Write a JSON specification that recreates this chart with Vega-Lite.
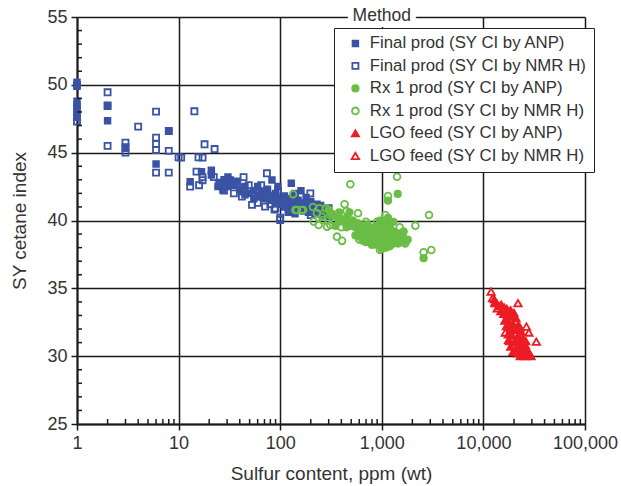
{
  "$schema": "https://vega.github.io/schema/vega-lite/v6.json",
  "width": 508,
  "height": 407,
  "autosize": {"type": "none"},
  "padding": {"left": 77, "top": 17, "right": 36, "bottom": 62},
  "config": {
    "view": {"stroke": null},
    "font": "Liberation Sans",
    "axis": {"labelFont": "Liberation Sans", "titleFont": "Liberation Sans", "labelColor": "#333", "titleColor": "#333", "labelFontSize": 18, "titleFontSize": 19, "titleFontWeight": "normal", "domainColor": "#1a1a1a", "domainWidth": 2, "tickColor": "#1a1a1a", "tickWidth": 1.5, "gridColor": "#1a1a1a", "gridWidth": 1.5},
    "legend": {"orient": "none", "legendX": 257, "legendY": 11, "strokeColor": "#222", "fillColor": "white", "padding": 7, "symbolOffset": 6, "labelFont": "Liberation Sans", "labelFontSize": 16.8, "labelColor": "#333", "labelOffset": 6, "rowPadding": 4.5, "symbolStrokeWidth": 1.8, "labelLimit": 400}
  },
  "resolve": {"axis": {"x": "independent", "y": "independent"}},
  "datasets": {
    "pts": [
      {"x":1,"y":50.2,"s":"FA"},{"x":1,"y":49.9,"s":"FA"},{"x":1,"y":48.8,"s":"FA"},{"x":1,"y":48.5,"s":"FA"},{"x":1,"y":48.3,"s":"FA"},{"x":1,"y":48.0,"s":"FA"},{"x":1,"y":47.8,"s":"FA"},{"x":1,"y":47.6,"s":"FA"},
      {"x":2,"y":48.5,"s":"FA"},{"x":2,"y":47.36,"s":"FA"},{"x":3,"y":45.33,"s":"FA"},{"x":6,"y":44.17,"s":"FA"},{"x":8,"y":46.6,"s":"FA"},{"x":13,"y":42.86,"s":"FA"},{"x":16.8,"y":43.6,"s":"FA"},{"x":21,"y":43.7,"s":"FA"},{"x":21,"y":43.35,"s":"FA"},{"x":24.4,"y":42.5,"s":"FA"},{"x":26.8,"y":42.5,"s":"FA"},{"x":27.3,"y":42.25,"s":"FA"},{"x":30.6,"y":43.2,"s":"FA"},{"x":30.6,"y":42.5,"s":"FA"},{"x":32.3,"y":42.99,"s":"FA"},{"x":83,"y":42.99,"s":"FA"},{"x":128.6,"y":42.74,"s":"FA"},
      {"x":35,"y":42.6,"s":"FA"},{"x":40,"y":42.3,"s":"FA"},{"x":45,"y":42.5,"s":"FA"},{"x":50,"y":42.0,"s":"FA"},{"x":55,"y":42.2,"s":"FA"},{"x":60,"y":41.8,"s":"FA"},{"x":65,"y":42.1,"s":"FA"},{"x":70,"y":41.6,"s":"FA"},{"x":75,"y":41.9,"s":"FA"},{"x":80,"y":41.5,"s":"FA"},{"x":85,"y":41.8,"s":"FA"},{"x":90,"y":41.3,"s":"FA"},{"x":95,"y":41.6,"s":"FA"},{"x":100,"y":41.2,"s":"FA"},{"x":105,"y":41.5,"s":"FA"},{"x":110,"y":41.0,"s":"FA"},{"x":115,"y":41.4,"s":"FA"},{"x":120,"y":41.1,"s":"FA"},{"x":130,"y":40.9,"s":"FA"},{"x":140,"y":41.3,"s":"FA"},{"x":150,"y":40.8,"s":"FA"},{"x":160,"y":41.1,"s":"FA"},{"x":170,"y":40.7,"s":"FA"},{"x":180,"y":41.0,"s":"FA"},{"x":190,"y":40.6,"s":"FA"},{"x":200,"y":40.9,"s":"FA"},{"x":220,"y":40.5,"s":"FA"},{"x":240,"y":40.8,"s":"FA"},{"x":260,"y":40.4,"s":"FA"},{"x":280,"y":40.7,"s":"FA"},{"x":300,"y":40.3,"s":"FA"},{"x":310,"y":40.5,"s":"FA"},{"x":60,"y":42.5,"s":"FA"},{"x":75,"y":42.3,"s":"FA"},{"x":90,"y":42.0,"s":"FA"},{"x":110,"y":41.8,"s":"FA"},{"x":130,"y":41.6,"s":"FA"},{"x":150,"y":41.5,"s":"FA"},{"x":170,"y":41.3,"s":"FA"},{"x":200,"y":41.4,"s":"FA"},{"x":230,"y":41.2,"s":"FA"},{"x":250,"y":41.1,"s":"FA"},{"x":45,"y":41.9,"s":"FA"},{"x":55,"y":41.6,"s":"FA"},{"x":120,"y":40.6,"s":"FA"},{"x":140,"y":40.5,"s":"FA"},{"x":38,"y":42.9,"s":"FA"},{"x":28,"y":43.0,"s":"FA"},{"x":25,"y":42.8,"s":"FA"},{"x":140,"y":42.0,"s":"FA"},{"x":180,"y":41.7,"s":"FA"},{"x":160,"y":42.2,"s":"FA"},{"x":95,"y":42.5,"s":"FA"},
      {"x":1,"y":47.3,"s":"FN"},{"x":1,"y":50.0,"s":"FN"},{"x":2,"y":49.45,"s":"FN"},{"x":2,"y":48.44,"s":"FN"},{"x":2,"y":45.5,"s":"FN"},{"x":3,"y":45.74,"s":"FN"},{"x":3,"y":45.0,"s":"FN"},{"x":3,"y":45.4,"s":"FN"},{"x":4,"y":46.92,"s":"FN"},{"x":6,"y":48.02,"s":"FN"},{"x":6,"y":46.1,"s":"FN"},{"x":6,"y":45.64,"s":"FN"},{"x":6,"y":45.2,"s":"FN"},{"x":6,"y":43.53,"s":"FN"},{"x":8,"y":46.6,"s":"FN"},{"x":8,"y":45.13,"s":"FN"},{"x":8,"y":43.53,"s":"FN"},{"x":10,"y":44.66,"s":"FN"},{"x":14.3,"y":48.05,"s":"FN"},{"x":15.7,"y":44.66,"s":"FN"},{"x":15,"y":43.6,"s":"FN"},{"x":18,"y":45.62,"s":"FN"},{"x":17.2,"y":44.63,"s":"FN"},{"x":22.6,"y":45.27,"s":"FN"},{"x":13,"y":42.5,"s":"FN"},{"x":15.9,"y":42.6,"s":"FN"},{"x":17.2,"y":43.2,"s":"FN"},{"x":17.2,"y":42.97,"s":"FN"},{"x":22.2,"y":43.2,"s":"FN"},{"x":43.6,"y":43.2,"s":"FN"},{"x":40,"y":42.4,"s":"FN"},{"x":42,"y":42.13,"s":"FN"},{"x":42,"y":41.76,"s":"FN"},{"x":52.8,"y":41.15,"s":"FN"},{"x":74,"y":43.48,"s":"FN"},{"x":71,"y":41.02,"s":"FN"},{"x":89.5,"y":40.9,"s":"FN"},{"x":100,"y":40.04,"s":"FN"},{"x":100,"y":40.2,"s":"FN"},{"x":49,"y":42.6,"s":"FN"},{"x":88,"y":40.8,"s":"FN"},{"x":198,"y":42.0,"s":"FN"},{"x":10.6,"y":44.63,"s":"FN"},{"x":35,"y":42.0,"s":"FN"},{"x":60,"y":41.3,"s":"FN"},{"x":80,"y":41.2,"s":"FN"},{"x":120,"y":41.6,"s":"FN"},{"x":160,"y":40.9,"s":"FN"},{"x":250,"y":40.6,"s":"FN"},{"x":300,"y":40.9,"s":"FN"},{"x":65,"y":42.6,"s":"FN"},{"x":95,"y":42.2,"s":"FN"},{"x":140,"y":41.8,"s":"FN"},{"x":200,"y":40.4,"s":"FN"},{"x":28,"y":42.2,"s":"FN"},{"x":33,"y":42.7,"s":"FN"},
      {"x":300,"y":40.8,"s":"GA"},{"x":320,"y":40.5,"s":"GA"},{"x":350,"y":40.3,"s":"GA"},{"x":380,"y":40.6,"s":"GA"},{"x":400,"y":40.1,"s":"GA"},{"x":420,"y":39.9,"s":"GA"},{"x":450,"y":40.2,"s":"GA"},{"x":480,"y":39.8,"s":"GA"},{"x":500,"y":39.6,"s":"GA"},{"x":520,"y":40.0,"s":"GA"},{"x":550,"y":39.5,"s":"GA"},{"x":580,"y":39.8,"s":"GA"},{"x":600,"y":39.3,"s":"GA"},{"x":620,"y":39.6,"s":"GA"},{"x":650,"y":39.1,"s":"GA"},{"x":680,"y":39.4,"s":"GA"},{"x":700,"y":39.0,"s":"GA"},{"x":720,"y":39.7,"s":"GA"},{"x":750,"y":39.2,"s":"GA"},{"x":780,"y":38.9,"s":"GA"},{"x":800,"y":39.5,"s":"GA"},{"x":820,"y":38.7,"s":"GA"},{"x":850,"y":39.2,"s":"GA"},{"x":880,"y":38.8,"s":"GA"},{"x":900,"y":39.6,"s":"GA"},{"x":920,"y":38.6,"s":"GA"},{"x":950,"y":39.1,"s":"GA"},{"x":980,"y":38.5,"s":"GA"},{"x":1000,"y":39.3,"s":"GA"},{"x":1020,"y":38.9,"s":"GA"},{"x":1050,"y":38.4,"s":"GA"},{"x":1080,"y":39.0,"s":"GA"},{"x":1100,"y":38.7,"s":"GA"},{"x":1120,"y":39.4,"s":"GA"},{"x":1150,"y":38.5,"s":"GA"},{"x":1180,"y":38.9,"s":"GA"},{"x":1200,"y":38.3,"s":"GA"},{"x":1250,"y":38.8,"s":"GA"},{"x":1280,"y":38.6,"s":"GA"},{"x":1300,"y":39.2,"s":"GA"},{"x":1350,"y":38.4,"s":"GA"},{"x":1380,"y":38.9,"s":"GA"},{"x":1400,"y":38.6,"s":"GA"},{"x":1450,"y":38.3,"s":"GA"},{"x":1500,"y":38.8,"s":"GA"},{"x":1550,"y":38.5,"s":"GA"},{"x":1600,"y":38.7,"s":"GA"},{"x":1650,"y":38.4,"s":"GA"},{"x":1700,"y":38.6,"s":"GA"},{"x":1750,"y":38.5,"s":"GA"},{"x":1800,"y":38.6,"s":"GA"},{"x":900,"y":38.2,"s":"GA"},{"x":1000,"y":38.1,"s":"GA"},{"x":1100,"y":38.0,"s":"GA"},{"x":700,"y":38.4,"s":"GA"},{"x":800,"y":38.2,"s":"GA"},{"x":600,"y":38.8,"s":"GA"},{"x":650,"y":38.5,"s":"GA"},{"x":550,"y":38.9,"s":"GA"},{"x":1050,"y":39.8,"s":"GA"},{"x":1200,"y":39.6,"s":"GA"},{"x":960,"y":40.0,"s":"GA"},{"x":1300,"y":39.9,"s":"GA"},{"x":1150,"y":40.2,"s":"GA"},{"x":1400,"y":39.0,"s":"GA"},{"x":1600,"y":39.1,"s":"GA"},{"x":450,"y":39.5,"s":"GA"},{"x":380,"y":39.9,"s":"GA"},{"x":350,"y":39.6,"s":"GA"},{"x":480,"y":40.6,"s":"GA"},{"x":1434,"y":41.96,"s":"GA"},{"x":1151,"y":41.46,"s":"GA"},{"x":2580,"y":37.22,"s":"GA"},{"x":1000,"y":37.9,"s":"GA"},{"x":1200,"y":38.1,"s":"GA"},
      {"x":1413,"y":43.23,"s":"GN"},{"x":490,"y":42.67,"s":"GN"},{"x":1151,"y":41.8,"s":"GN"},{"x":430,"y":41.2,"s":"GN"},{"x":583,"y":40.53,"s":"GN"},{"x":1083,"y":40.41,"s":"GN"},{"x":2140,"y":39.62,"s":"GN"},{"x":134,"y":41.93,"s":"GN"},{"x":146,"y":40.78,"s":"GN"},{"x":168,"y":40.78,"s":"GN"},{"x":244,"y":40.9,"s":"GN"},{"x":230,"y":40.53,"s":"GN"},{"x":258,"y":40.28,"s":"GN"},{"x":213,"y":39.92,"s":"GN"},{"x":239,"y":39.67,"s":"GN"},{"x":289,"y":39.54,"s":"GN"},{"x":311,"y":39.67,"s":"GN"},{"x":362,"y":38.81,"s":"GN"},{"x":406,"y":38.5,"s":"GN"},{"x":330,"y":40.0,"s":"GN"},{"x":717,"y":38.44,"s":"GN"},{"x":960,"y":37.83,"s":"GN"},{"x":1640,"y":39.18,"s":"GN"},{"x":2915,"y":40.4,"s":"GN"},{"x":2580,"y":37.66,"s":"GN"},{"x":3070,"y":37.83,"s":"GN"},{"x":1610,"y":39.1,"s":"GN"},{"x":262,"y":40.04,"s":"GN"},{"x":210,"y":41.0,"s":"GN"},{"x":280,"y":40.9,"s":"GN"},{"x":310,"y":40.4,"s":"GN"},{"x":350,"y":40.3,"s":"GN"},{"x":500,"y":40.0,"s":"GN"},{"x":700,"y":39.9,"s":"GN"},{"x":800,"y":38.8,"s":"GN"},{"x":1300,"y":38.3,"s":"GN"},{"x":1500,"y":39.5,"s":"GN"},{"x":1700,"y":38.3,"s":"GN"},{"x":900,"y":39.9,"s":"GN"},{"x":600,"y":38.6,"s":"GN"},{"x":400,"y":39.5,"s":"GN"},{"x":450,"y":40.7,"s":"GN"},{"x":141,"y":40.78,"s":"GN"},{"x":163,"y":40.78,"s":"GN"},
      {"x":12800,"y":34.2,"s":"RA"},{"x":13500,"y":33.9,"s":"RA"},{"x":14200,"y":33.7,"s":"RA"},{"x":15000,"y":33.8,"s":"RA"},{"x":16000,"y":33.6,"s":"RA"},{"x":17000,"y":33.5,"s":"RA"},{"x":18500,"y":33.4,"s":"RA"},{"x":20000,"y":33.2,"s":"RA"},{"x":14800,"y":33.3,"s":"RA"},{"x":15800,"y":33.1,"s":"RA"},{"x":17200,"y":33.0,"s":"RA"},{"x":19000,"y":32.9,"s":"RA"},{"x":21000,"y":32.8,"s":"RA"},{"x":16200,"y":32.6,"s":"RA"},{"x":17800,"y":32.5,"s":"RA"},{"x":19500,"y":32.4,"s":"RA"},{"x":22000,"y":32.3,"s":"RA"},{"x":16800,"y":32.2,"s":"RA"},{"x":18500,"y":32.0,"s":"RA"},{"x":20500,"y":31.9,"s":"RA"},{"x":23500,"y":31.8,"s":"RA"},{"x":17500,"y":31.6,"s":"RA"},{"x":19200,"y":31.5,"s":"RA"},{"x":21500,"y":31.4,"s":"RA"},{"x":24500,"y":31.3,"s":"RA"},{"x":18000,"y":31.1,"s":"RA"},{"x":20000,"y":31.0,"s":"RA"},{"x":22500,"y":30.9,"s":"RA"},{"x":26000,"y":30.8,"s":"RA"},{"x":18500,"y":30.7,"s":"RA"},{"x":21000,"y":30.6,"s":"RA"},{"x":23500,"y":30.5,"s":"RA"},{"x":27000,"y":30.4,"s":"RA"},{"x":19500,"y":30.3,"s":"RA"},{"x":22000,"y":30.2,"s":"RA"},{"x":25000,"y":30.1,"s":"RA"},{"x":28500,"y":30.2,"s":"RA"},{"x":23000,"y":30.0,"s":"RA"},{"x":26000,"y":30.0,"s":"RA"},{"x":29500,"y":30.0,"s":"RA"},{"x":15500,"y":33.3,"s":"RA"},{"x":20200,"y":32.1,"s":"RA"},{"x":22800,"y":31.2,"s":"RA"},{"x":25500,"y":30.7,"s":"RA"},{"x":17000,"y":32.8,"s":"RA"},{"x":18300,"y":31.8,"s":"RA"},{"x":26200,"y":31.1,"s":"RA"},{"x":23000,"y":32.1,"s":"RA"},{"x":13000,"y":34.0,"s":"RA"},
      {"x":11900,"y":34.76,"s":"RN"},{"x":12300,"y":34.27,"s":"RN"},{"x":13000,"y":33.9,"s":"RN"},{"x":13700,"y":33.53,"s":"RN"},{"x":21900,"y":33.9,"s":"RN"},{"x":26500,"y":32.18,"s":"RN"},{"x":28000,"y":31.74,"s":"RN"},{"x":33200,"y":31.07,"s":"RN"},{"x":16400,"y":31.74,"s":"RN"},{"x":17700,"y":31.2,"s":"RN"},{"x":19000,"y":33.0,"s":"RN"},{"x":22000,"y":31.5,"s":"RN"},{"x":25000,"y":30.5,"s":"RN"}
    ],
    "annot": [{"x": 1000, "y": 55, "t": "Method"}],
    "minx": [{"v":2},{"v":3},{"v":4},{"v":5},{"v":6},{"v":7},{"v":8},{"v":9},{"v":20},{"v":30},{"v":40},{"v":50},{"v":60},{"v":70},{"v":80},{"v":90},{"v":200},{"v":300},{"v":400},{"v":500},{"v":600},{"v":700},{"v":800},{"v":900},{"v":2000},{"v":3000},{"v":4000},{"v":5000},{"v":6000},{"v":7000},{"v":8000},{"v":9000},{"v":20000},{"v":30000},{"v":40000},{"v":50000},{"v":60000},{"v":70000},{"v":80000},{"v":90000}],
    "miny": [{"v":26},{"v":27},{"v":28},{"v":29},{"v":31},{"v":32},{"v":33},{"v":34},{"v":36},{"v":37},{"v":38},{"v":39},{"v":41},{"v":42},{"v":43},{"v":44},{"v":46},{"v":47},{"v":48},{"v":49},{"v":51},{"v":52},{"v":53},{"v":54}]
  },
  "layer": [
    {
      "data": {"name": "pts"},
      "mark": {"type": "point", "strokeWidth": 1.8, "opacity": 1},
      "encoding": {
        "x": {"field": "x", "type": "quantitative", "scale": {"type": "log", "domain": [1, 100000], "nice": false},
          "axis": {"orient": "bottom", "title": "Sulfur content, ppm (wt)", "values": [1,10,100,1000,10000,100000], "format": ",", "grid": true, "tickSize": 6, "labelPadding": 4, "titlePadding": 12, "labelFlush": false, "labelOverlap": false}},
        "y": {"field": "y", "type": "quantitative", "scale": {"domain": [25, 55], "nice": false, "zero": false},
          "axis": {"orient": "left", "title": "SY cetane index", "values": [25,30,35,40,45,50,55], "grid": true, "tickSize": 6, "labelPadding": 4, "titlePadding": 17, "labelFlush": false, "labelOverlap": false}},
        "shape": {"field": "s", "type": "nominal", "scale": {"domain": ["FA","FN","GA","GN","RA","RN"], "range": ["square","square","circle","circle","triangle-up","triangle-up"]}},
        "fill": {"field": "s", "type": "nominal", "scale": {"domain": ["FA","FN","GA","GN","RA","RN"], "range": ["#3a53a4","transparent","#6abd45","transparent","#ed1c24","transparent"]}},
        "size": {"field": "s", "type": "nominal", "scale": {"domain": ["FA","FN","GA","GN","RA","RN"], "range": [32, 55, 26, 52, 38, 74]}},
        "stroke": {"field": "s", "type": "nominal", "scale": {"domain": ["FA","FN","GA","GN","RA","RN"], "range": ["#3a53a4","#3a53a4","#6abd45","#6abd45","#ed1c24","#ed1c24"]},
          "legend": {"title": null,
            "labelExpr": "datum.label == 'FA' ? 'Final prod (SY CI by ANP)' : datum.label == 'FN' ? 'Final prod (SY CI by NMR H)' : datum.label == 'GA' ? 'Rx 1 prod (SY CI by ANP)' : datum.label == 'GN' ? 'Rx 1 prod (SY CI by NMR H)' : datum.label == 'RA' ? 'LGO feed (SY CI by ANP)' : 'LGO feed (SY CI by NMR H)'"}}
      }
    },
    {
      "data": {"name": "minx"},
      "mark": {"type": "rule", "color": "#1a1a1a", "strokeWidth": 1.5},
      "encoding": {
        "x": {"field": "v", "type": "quantitative", "axis": null},
        "y": {"datum": 25, "type": "quantitative", "axis": null},
        "y2": {"datum": 25.37}
      }
    },
    {
      "data": {"name": "miny"},
      "mark": {"type": "rule", "color": "#1a1a1a", "strokeWidth": 1.5},
      "encoding": {
        "y": {"field": "v", "type": "quantitative", "axis": null},
        "x": {"datum": 1, "type": "quantitative", "axis": null},
        "x2": {"datum": 1.12}
      }
    },
    {
      "data": {"name": "annot"},
      "mark": {"type": "text", "font": "Liberation Sans", "fontSize": 17.5, "color": "white", "stroke": "white", "strokeWidth": 12, "baseline": "middle", "align": "center", "dy": -1},
      "encoding": {
        "x": {"field": "x", "type": "quantitative", "axis": null},
        "y": {"field": "y", "type": "quantitative", "axis": null},
        "text": {"field": "t"}
      }
    },
    {
      "data": {"name": "annot"},
      "mark": {"type": "text", "font": "Liberation Sans", "fontSize": 17.5, "color": "#333", "baseline": "middle", "align": "center", "dy": -1},
      "encoding": {"x": {"field": "x", "type": "quantitative", "axis": null}, "y": {"field": "y", "type": "quantitative", "axis": null}, "text": {"field": "t"}}
    }
  ]
}
